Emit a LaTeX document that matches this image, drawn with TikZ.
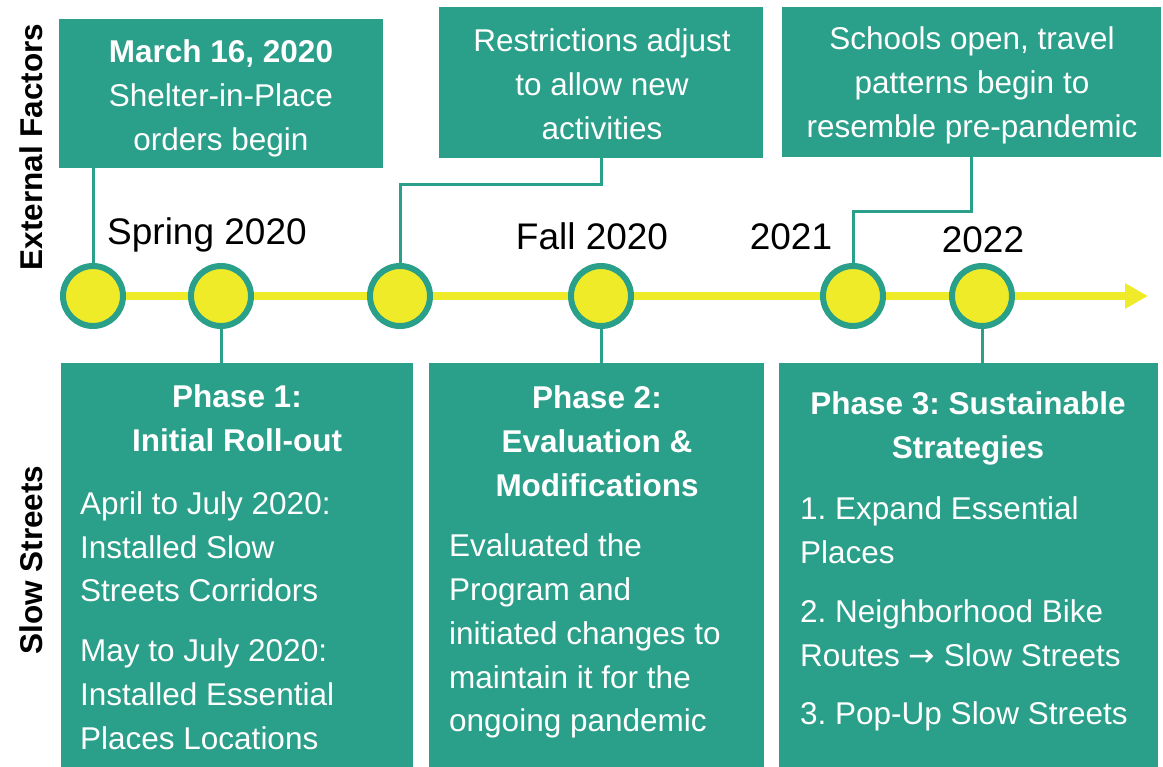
\documentclass[tikz,border=0pt]{standalone}
\usepackage{fontspec}
\setmainfont{Liberation Sans}
\newfontfamily\arrowfont{DejaVu Sans}
\usetikzlibrary{arrows.meta,backgrounds}
\definecolor{tealc}{HTML}{2A9F89}
\definecolor{yelc}{HTML}{EFEB29}
\newcommand\blk[2]{\begin{tabular}[t]{@{}#1@{}}#2\end{tabular}}
\frenchspacing
\begin{document}
\frenchspacing
\begin{tikzpicture}[x=1pt,y=-1pt,
  box/.style={rectangle, fill=tealc, inner sep=0pt, draw=none},
  txt/.style={inner sep=0pt, yshift=-2pt, text=white, font=\fontsize{31.5}{44}\selectfont},
  yr/.style={inner sep=0pt, yshift=-2pt, font=\fontsize{37}{44}\selectfont, anchor=base},
  side/.style={inner sep=0pt, font=\bfseries\fontsize{31.5}{40}\selectfont, rotate=90, anchor=base},
  dot/.style={circle, minimum size=60pt, inner sep=0pt, line width=6pt, draw=tealc, fill=yelc},
  link/.style={draw=tealc, line width=3pt},
  axis/.style={draw=yelc, line width=8pt, -{Triangle[length=23pt,width=24pt]}}]
\useasboundingbox (0,0) rectangle (1163,767);

% side labels
\node[side] (sideA) at (42,147) {External Factors};
\node[side] (sideB) at (42,560) {Slow Streets};

% upper boxes
\node[box, minimum width=324pt, minimum height=149pt] (b1) at (221,93.5) {};
\node[box, minimum width=324pt, minimum height=151pt] (b2) at (601,82.5) {};
\node[box, minimum width=379pt, minimum height=150pt] (b3) at (971.5,82) {};
\node[txt, anchor=base] (tb1) at (221,61) {\blk{c}{\textbf{March 16, 2020}\\Shelter-in-Place\\orders begin}};
\node[txt, anchor=base] (tb2) at (602,50) {\blk{c}{Restrictions adjust\\to allow new\\activities}};
\node[txt, anchor=base] (tb3) at (972,48) {\blk{c}{Schools open, travel\\patterns begin to\\resemble pre-pandemic}};

% lower boxes
\node[box, minimum width=352pt, minimum height=404pt] (p1) at (237,565) {};
\node[box, minimum width=335pt, minimum height=404pt] (p2) at (596.5,565) {};
\node[box, minimum width=379pt, minimum height=404pt] (p3) at (968.5,565) {};
\node[txt, anchor=base] (hp1) at (237,406) {\bfseries\blk{c}{Phase 1:\\Initial Roll-out}};
\node[txt, anchor=base west] (bp1) at (80,512) {\blk{l}{April to July 2020:\\Installed Slow\\Streets Corridors\\[16pt]May to July 2020:\\Installed Essential\\Places Locations}};
\node[txt, anchor=base] (hp2) at (597,407) {\bfseries\blk{c}{Phase 2:\\Evaluation \&\\Modifications}};
\node[txt, anchor=base west] (bp2) at (449,554) {\blk{l}{Evaluated the\\Program and\\initiated changes to\\maintain it for the\\ongoing pandemic}};
\node[txt, anchor=base] (hp3) at (968,413) {\bfseries\blk{c}{Phase 3: Sustainable\\Strategies}};
\node[txt, anchor=base west] (bp3) at (800,517) {\blk{l}{1. Expand Essential\\Places\\[15pt]2. Neighborhood Bike\\Routes {\arrowfont →} Slow Streets\\[15pt]3. Pop-Up Slow Streets}};

% year labels
\node[yr, anchor=base west] (y1) at (107,243) {Spring 2020};
\node[yr] (y2) at (592,248) {Fall 2020};
\node[yr] (y3) at (791,248) {2021};
\node[yr] (y4) at (983,251) {2022};

% timeline dots
\node[dot] (c1) at (93,296) {};
\node[dot] (c2) at (221,296) {};
\node[dot] (c3) at (400,296) {};
\node[dot] (c4) at (601,296) {};
\node[dot] (c5) at (853,296) {};
\node[dot] (c6) at (982,296) {};
\coordinate (tip) at (1148,296);

\begin{pgfonlayer}{background}
  \draw[axis] (c1.center) -- (tip);
  \draw[link] (b1.south -| c1) -- (c1.north);
  \draw[link] (b2.south) -- ++(0,26) -| (c3.north);
  \draw[link] (b3.south) -- ++(0,54) -| (c5.north);
  \draw[link] (c2.south) -- (p1.north -| c2);
  \draw[link] (c4.south) -- (p2.north -| c4);
  \draw[link] (c6.south) -- (p3.north -| c6);
\end{pgfonlayer}
\end{tikzpicture}
\end{document}
